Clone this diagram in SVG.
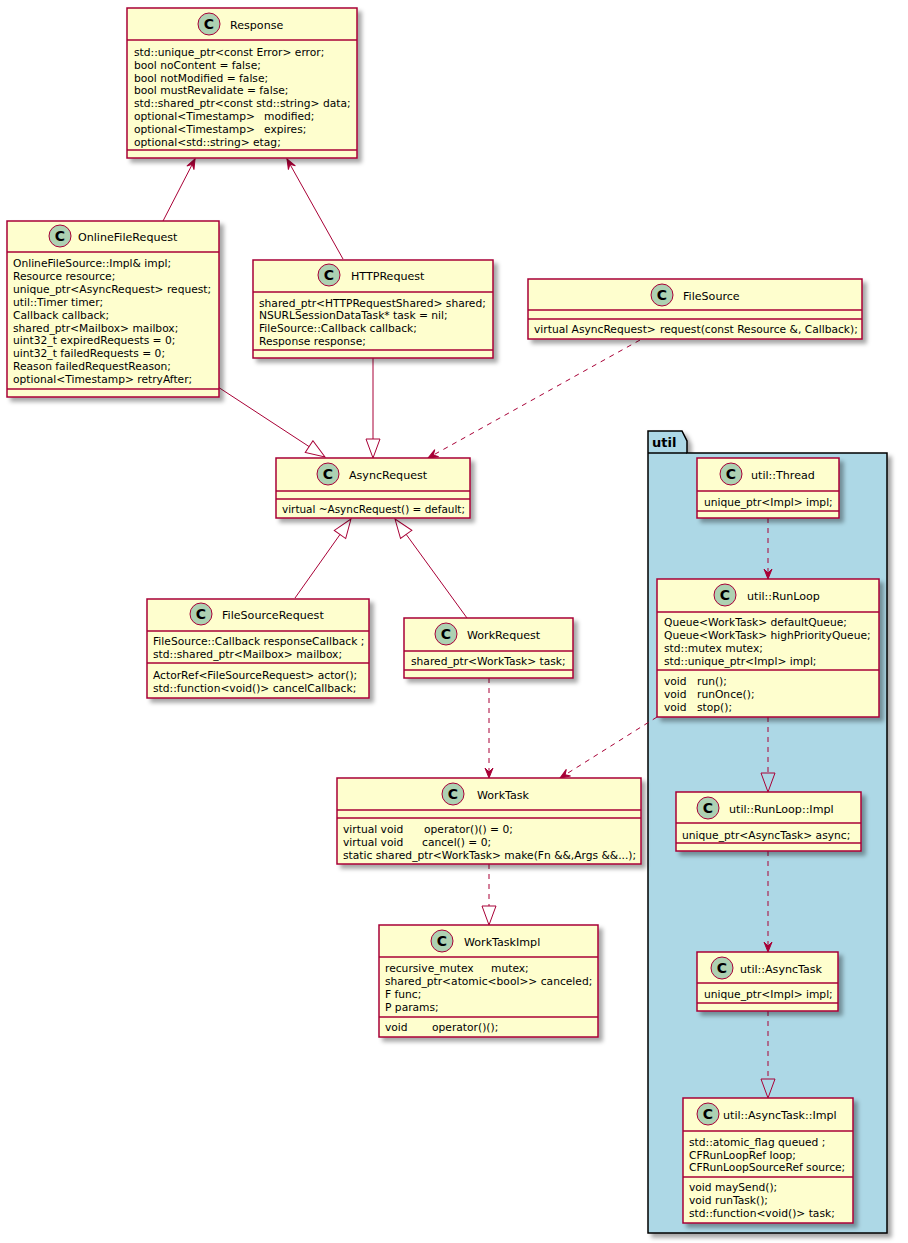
<svg xmlns="http://www.w3.org/2000/svg" width="908" height="1243" viewBox="0 0 908 1243">
<defs>
<filter id="sh" x="-10%" y="-10%" width="130%" height="130%">
<feDropShadow dx="4" dy="4" stdDeviation="2" flood-color="#000" flood-opacity="0.35"/>
</filter>
<marker id="arr" viewBox="-11 -5 12 10" refX="0" refY="0" markerWidth="12" markerHeight="10" markerUnits="userSpaceOnUse" orient="auto">
<path d="M0,0 L-10,-4 L-6,0 L-10,4 Z" fill="#A80036" stroke="#A80036" stroke-width="1" stroke-dasharray="none"/>
</marker>
<marker id="tri" viewBox="-1 -8 21 16" refX="0" refY="0" markerWidth="21" markerHeight="16" markerUnits="userSpaceOnUse" orient="auto">
<path d="M19,0 L0,-7 L0,7 Z" fill="none" stroke="#A80036" stroke-width="1" stroke-dasharray="none"/>
</marker>
</defs>
<style>
.box{fill:#FEFECE;stroke:#A80036;stroke-width:1.5;filter:url(#sh)}
.sep{stroke:#A80036;stroke-width:1.5}
.circ{fill:#ADD1B2;stroke:#A80036;stroke-width:1}
.cl{font-family:"DejaVu Sans",sans-serif;font-size:14px;font-weight:bold;fill:#000;text-anchor:middle}
.nm{font-family:"DejaVu Sans",sans-serif;font-size:11.1px;fill:#000}
.mb{font-family:"DejaVu Sans",sans-serif;font-size:10.7px;fill:#000;white-space:pre}
.ln{stroke:#A80036;stroke-width:1;fill:none}
.ds{stroke-dasharray:5,5}
.pkg{fill:#ADD8E6;stroke:#000;stroke-width:1.5}
.pl{font-family:"DejaVu Sans",sans-serif;font-size:13px;font-weight:bold;fill:#000}
</style>
<rect width="908" height="1243" fill="#FFFFFF"/>

<g id="pkg-util">
<path class="pkg" d="M648,431 H682 L687,441 V453 H887 V1233 H648 Z" filter="url(#sh)"/>
<line x1="648" y1="453" x2="687" y2="453" stroke="#000" stroke-width="1.5"/>
<text class="pl" x="652" y="447">util</text>
</g>

<g id="connectors">
<line class="ln" x1="163" y1="221" x2="195" y2="159" marker-end="url(#arr)"/>
<line class="ln" x1="343" y1="259" x2="287" y2="159" marker-end="url(#arr)"/>
<line class="ln" x1="218" y1="387" x2="309.1" y2="446.6" marker-end="url(#tri)"/>
<line class="ln" x1="373" y1="358" x2="373" y2="439" marker-end="url(#tri)"/>
<line class="ln ds" x1="640" y1="340" x2="428" y2="458" marker-end="url(#arr)"/>
<line class="ln" x1="295" y1="598" x2="340" y2="534.5" marker-end="url(#tri)"/>
<line class="ln" x1="467" y1="618" x2="406.2" y2="534.4" marker-end="url(#tri)"/>
<line class="ln ds" x1="489" y1="678" x2="489" y2="778" marker-end="url(#arr)"/>
<line class="ln ds" x1="657" y1="717" x2="560" y2="778" marker-end="url(#arr)"/>
<line class="ln ds" x1="489" y1="864" x2="489" y2="906" marker-end="url(#tri)"/>
<line class="ln ds" x1="768" y1="518" x2="768" y2="579" marker-end="url(#arr)"/>
<line class="ln ds" x1="768" y1="717" x2="768" y2="773" marker-end="url(#tri)"/>
<line class="ln ds" x1="768" y1="851" x2="768" y2="952" marker-end="url(#arr)"/>
<line class="ln ds" x1="768" y1="1011" x2="768" y2="1079" marker-end="url(#tri)"/>
</g>

<g id="Response">
<rect class="box" x="127" y="8" width="230" height="150"/>
<line class="sep" x1="127" y1="40" x2="357" y2="40"/>
<line class="sep" x1="127" y1="150" x2="357" y2="150"/>
<circle class="circ" cx="209" cy="24" r="11"/>
<text class="cl" x="209" y="29">C</text>
<text class="nm" x="230" y="28.5">Response</text>
<text class="mb" x="134" y="56">std::unique_ptr&lt;const Error&gt; error;</text>
<text class="mb" x="134" y="68.8">bool noContent = false;</text>
<text class="mb" x="134" y="81.6">bool notModified = false;</text>
<text class="mb" x="134" y="94.4">bool mustRevalidate = false;</text>
<text class="mb" x="134" y="107.2">std::shared_ptr&lt;const std::string&gt; data;</text>
<text class="mb" x="134" y="120">optional&lt;Timestamp&gt;<tspan x="264">modified;</tspan></text>
<text class="mb" x="134" y="132.8">optional&lt;Timestamp&gt;<tspan x="264">expires;</tspan></text>
<text class="mb" x="134" y="145.6">optional&lt;std::string&gt; etag;</text>
</g>

<g id="OnlineFileRequest">
<rect class="box" x="7" y="221" width="212" height="176"/>
<line class="sep" x1="7" y1="252" x2="219" y2="252"/>
<line class="sep" x1="7" y1="389" x2="219" y2="389"/>
<circle class="circ" cx="60" cy="236" r="11"/>
<text class="cl" x="60" y="241">C</text>
<text class="nm" x="78" y="240.5">OnlineFileRequest</text>
<text class="mb" x="13" y="267">OnlineFileSource::Impl&amp; impl;</text>
<text class="mb" x="13" y="279.9">Resource resource;</text>
<text class="mb" x="13" y="292.8">unique_ptr&lt;AsyncRequest&gt; request;</text>
<text class="mb" x="13" y="305.7">util::Timer timer;</text>
<text class="mb" x="13" y="318.6">Callback callback;</text>
<text class="mb" x="13" y="331.5">shared_ptr&lt;Mailbox&gt; mailbox;</text>
<text class="mb" x="13" y="344.4">uint32_t expiredRequests = 0;</text>
<text class="mb" x="13" y="357.3">uint32_t failedRequests = 0;</text>
<text class="mb" x="13" y="370.2">Reason failedRequestReason;</text>
<text class="mb" x="13" y="383.1">optional&lt;Timestamp&gt; retryAfter;</text>
</g>

<g id="HTTPRequest">
<rect class="box" x="253" y="260" width="240" height="98"/>
<line class="sep" x1="253" y1="292" x2="493" y2="292"/>
<line class="sep" x1="253" y1="350" x2="493" y2="350"/>
<circle class="circ" cx="329" cy="275" r="11"/>
<text class="cl" x="329" y="280">C</text>
<text class="nm" x="351" y="279.5">HTTPRequest</text>
<text class="mb" x="259" y="306.5">shared_ptr&lt;HTTPRequestShared&gt; shared;</text>
<text class="mb" x="259" y="319.3">NSURLSessionDataTask* task = nil;</text>
<text class="mb" x="259" y="332.1">FileSource::Callback callback;</text>
<text class="mb" x="259" y="344.9">Response response;</text>
</g>

<g id="FileSource">
<rect class="box" x="528" y="279" width="334" height="60"/>
<line class="sep" x1="528" y1="310" x2="862" y2="310"/>
<line class="sep" x1="528" y1="319" x2="862" y2="319"/>
<circle class="circ" cx="662" cy="295" r="11"/>
<text class="cl" x="662" y="300">C</text>
<text class="nm" x="683" y="299.5">FileSource</text>
<text class="mb" x="534" y="333">virtual AsyncRequest&gt;<tspan x="660">request(const Resource &amp;, Callback);</tspan></text>
</g>

<g id="AsyncRequest">
<rect class="box" x="276" y="458" width="194" height="60"/>
<line class="sep" x1="276" y1="491" x2="470" y2="491"/>
<line class="sep" x1="276" y1="499" x2="470" y2="499"/>
<circle class="circ" cx="328" cy="474" r="11"/>
<text class="cl" x="328" y="479">C</text>
<text class="nm" x="349" y="478.5">AsyncRequest</text>
<text class="mb" x="282" y="513" textLength="183" lengthAdjust="spacingAndGlyphs">virtual ~AsyncRequest() = default;</text>
</g>

<g id="FileSourceRequest">
<rect class="box" x="147" y="599" width="222" height="99"/>
<line class="sep" x1="147" y1="631" x2="369" y2="631"/>
<line class="sep" x1="147" y1="663" x2="369" y2="663"/>
<circle class="circ" cx="201" cy="614" r="11"/>
<text class="cl" x="201" y="619">C</text>
<text class="nm" x="222" y="618.5">FileSourceRequest</text>
<text class="mb" x="153" y="645">FileSource::Callback responseCallback ;</text>
<text class="mb" x="153" y="658">std::shared_ptr&lt;Mailbox&gt; mailbox;</text>
<text class="mb" x="153" y="679">ActorRef&lt;FileSourceRequest&gt; actor();</text>
<text class="mb" x="153" y="692">std::function&lt;void()&gt; cancelCallback;</text>
</g>

<g id="WorkRequest">
<rect class="box" x="404" y="618" width="169" height="60"/>
<line class="sep" x1="404" y1="651" x2="573" y2="651"/>
<line class="sep" x1="404" y1="670" x2="573" y2="670"/>
<circle class="circ" cx="446" cy="634" r="11"/>
<text class="cl" x="446" y="639">C</text>
<text class="nm" x="467" y="638.5">WorkRequest</text>
<text class="mb" x="411" y="665">shared_ptr&lt;WorkTask&gt; task;</text>
</g>

<g id="WorkTask">
<rect class="box" x="337" y="778" width="304" height="86"/>
<line class="sep" x1="337" y1="810" x2="641" y2="810"/>
<line class="sep" x1="337" y1="818" x2="641" y2="818"/>
<circle class="circ" cx="453" cy="794" r="11"/>
<text class="cl" x="453" y="799">C</text>
<text class="nm" x="477" y="798.5">WorkTask</text>
<text class="mb" x="343" y="833">virtual void<tspan x="424">operator()() = 0;</tspan></text>
<text class="mb" x="343" y="846">virtual void<tspan x="422">cancel() = 0;</tspan></text>
<text class="mb" x="343" y="859">static shared_ptr&lt;WorkTask&gt; make(Fn &amp;&amp;,Args &amp;&amp;...);</text>
</g>

<g id="WorkTaskImpl">
<rect class="box" x="379" y="925" width="219" height="112"/>
<line class="sep" x1="379" y1="957" x2="598" y2="957"/>
<line class="sep" x1="379" y1="1017" x2="598" y2="1017"/>
<circle class="circ" cx="442" cy="941" r="11"/>
<text class="cl" x="442" y="946">C</text>
<text class="nm" x="464" y="945.5">WorkTaskImpl</text>
<text class="mb" x="385" y="972">recursive_mutex<tspan x="491">mutex;</tspan></text>
<text class="mb" x="385" y="985">shared_ptr&lt;atomic&lt;bool&gt;&gt; canceled;</text>
<text class="mb" x="385" y="998">F func;</text>
<text class="mb" x="385" y="1011">P params;</text>
<text class="mb" x="385" y="1031">void<tspan x="432">operator()();</tspan></text>
</g>

<g id="util-Thread">
<rect class="box" x="697" y="458" width="142" height="60"/>
<line class="sep" x1="697" y1="491" x2="839" y2="491"/>
<line class="sep" x1="697" y1="511" x2="839" y2="511"/>
<circle class="circ" cx="731" cy="474" r="11"/>
<text class="cl" x="731" y="479">C</text>
<text class="nm" x="751" y="478.5">util::Thread</text>
<text class="mb" x="704" y="506">unique_ptr&lt;Impl&gt; impl;</text>
</g>

<g id="util-RunLoop">
<rect class="box" x="657" y="579" width="222" height="138"/>
<line class="sep" x1="657" y1="612" x2="879" y2="612"/>
<line class="sep" x1="657" y1="670" x2="879" y2="670"/>
<circle class="circ" cx="725" cy="595" r="11"/>
<text class="cl" x="725" y="600">C</text>
<text class="nm" x="747" y="599.5">util::RunLoop</text>
<text class="mb" x="664" y="626">Queue&lt;WorkTask&gt; defaultQueue;</text>
<text class="mb" x="664" y="639">Queue&lt;WorkTask&gt; highPriorityQueue;</text>
<text class="mb" x="664" y="652">std::mutex mutex;</text>
<text class="mb" x="664" y="665">std::unique_ptr&lt;Impl&gt; impl;</text>
<text class="mb" x="664" y="685">void<tspan x="697">run();</tspan></text>
<text class="mb" x="664" y="698">void<tspan x="697">runOnce();</tspan></text>
<text class="mb" x="664" y="711">void<tspan x="697">stop();</tspan></text>
</g>

<g id="util-RunLoop-Impl">
<rect class="box" x="676" y="792" width="185" height="59"/>
<line class="sep" x1="676" y1="823" x2="861" y2="823"/>
<line class="sep" x1="676" y1="843" x2="861" y2="843"/>
<circle class="circ" cx="708" cy="808" r="11"/>
<text class="cl" x="708" y="813">C</text>
<text class="nm" x="729" y="812.5">util::RunLoop::Impl</text>
<text class="mb" x="682" y="839">unique_ptr&lt;AsyncTask&gt; async;</text>
</g>

<g id="util-AsyncTask">
<rect class="box" x="697" y="952" width="141" height="59"/>
<line class="sep" x1="697" y1="983" x2="838" y2="983"/>
<line class="sep" x1="697" y1="1003" x2="838" y2="1003"/>
<circle class="circ" cx="722" cy="968" r="11"/>
<text class="cl" x="722" y="973">C</text>
<text class="nm" x="740" y="972.5">util::AsyncTask</text>
<text class="mb" x="704" y="998">unique_ptr&lt;Impl&gt; impl;</text>
</g>

<g id="util-AsyncTask-Impl">
<rect class="box" x="683" y="1098" width="170" height="125"/>
<line class="sep" x1="683" y1="1131" x2="853" y2="1131"/>
<line class="sep" x1="683" y1="1177" x2="853" y2="1177"/>
<circle class="circ" cx="708" cy="1114" r="11"/>
<text class="cl" x="708" y="1119">C</text>
<text class="nm" x="723" y="1118.5">util::AsyncTask::Impl</text>
<text class="mb" x="689" y="1146">std::atomic_flag queued ;</text>
<text class="mb" x="689" y="1159">CFRunLoopRef loop;</text>
<text class="mb" x="689" y="1171">CFRunLoopSourceRef source;</text>
<text class="mb" x="689" y="1191">void maySend();</text>
<text class="mb" x="689" y="1204">void runTask();</text>
<text class="mb" x="689" y="1217">std::function&lt;void()&gt; task;</text>
</g>
</svg>
